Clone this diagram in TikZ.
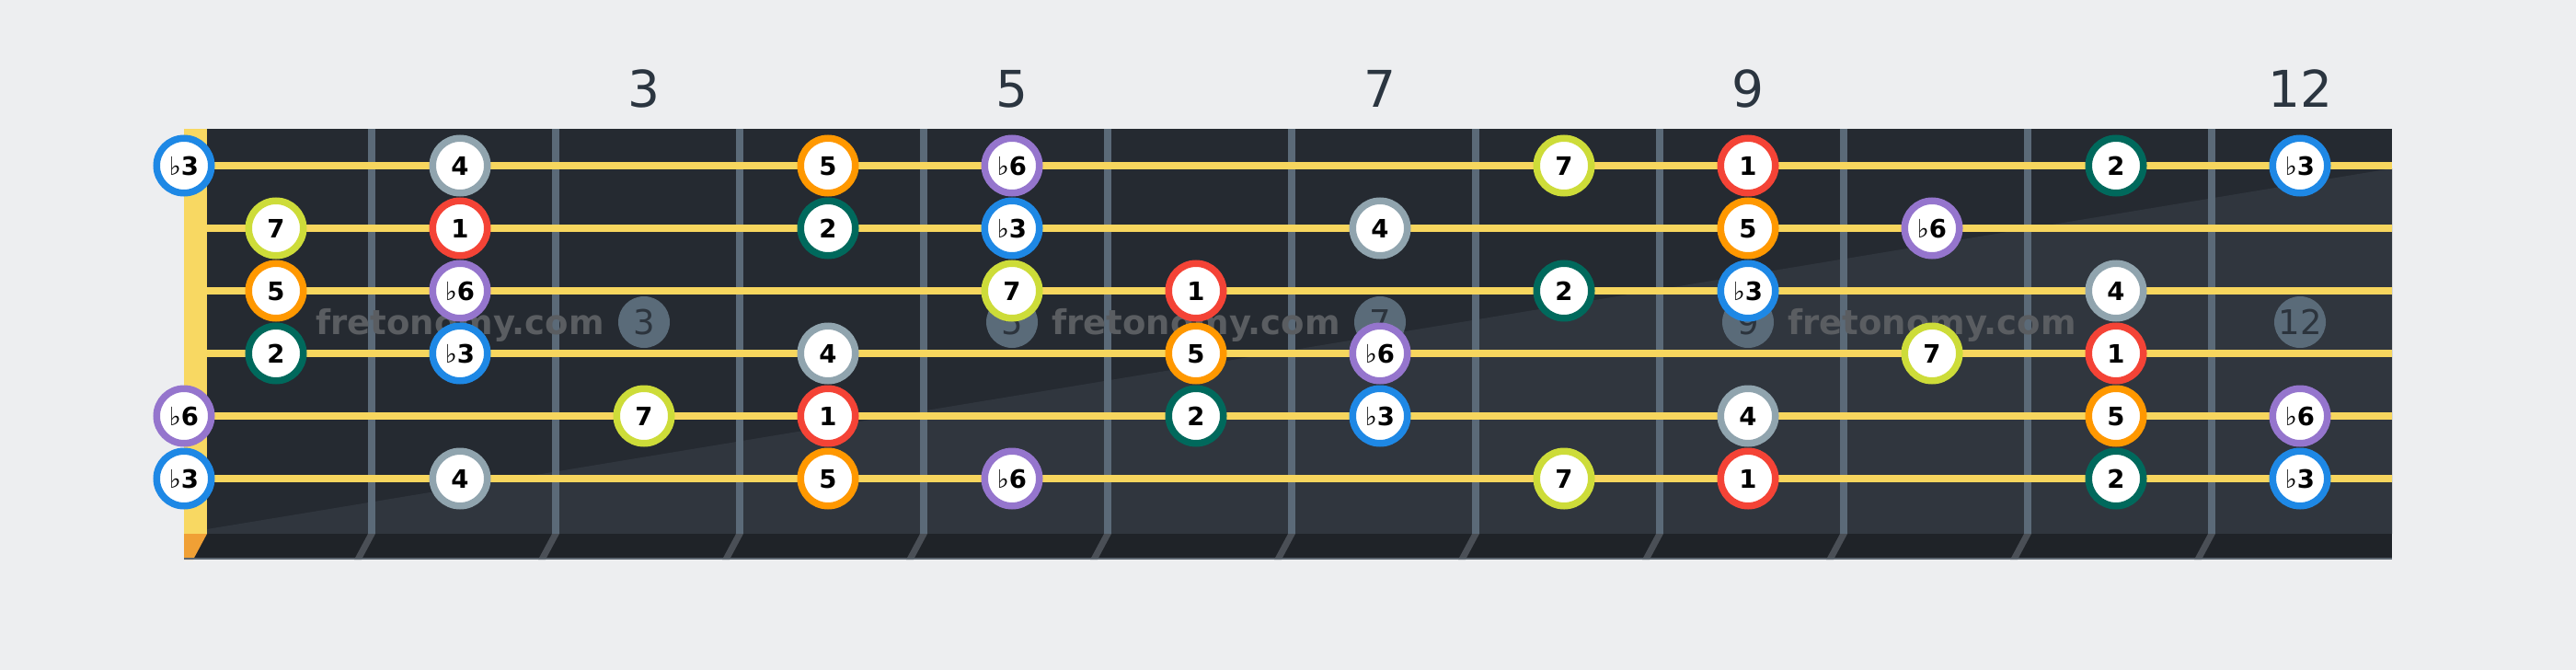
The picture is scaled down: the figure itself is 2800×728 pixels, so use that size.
\documentclass[tikz,border=0pt]{standalone}
\usepackage{fontspec}
\setmainfont{DejaVu Sans}
\definecolor{bg}{HTML}{EDEEF0}
\definecolor{boardA}{HTML}{252A31}
\definecolor{boardB}{HTML}{30363E}
\definecolor{bandc}{HTML}{1F2328}
\definecolor{fretc}{HTML}{5B6A78}
\definecolor{strc}{HTML}{F7D65E}
\definecolor{nutc}{HTML}{F8D862}
\definecolor{nutb}{HTML}{F0A035}
\definecolor{bandfret}{HTML}{4A4F56}
\definecolor{edgec}{HTML}{5C6670}
\definecolor{wmc}{HTML}{5A5D61}
\definecolor{dotc}{HTML}{5A6B79}
\definecolor{dottext}{HTML}{2C343D}
\definecolor{lblc}{HTML}{2B3540}
\definecolor{cI}{HTML}{F44336}
\definecolor{cII}{HTML}{00695C}
\definecolor{cIII}{HTML}{1E88E5}
\definecolor{cIV}{HTML}{90A4AE}
\definecolor{cV}{HTML}{FF9800}
\definecolor{cVI}{HTML}{9575CD}
\definecolor{cVII}{HTML}{CDDC39}
\newcommand{\fl}{{\mdseries ♭}}
\tikzset{
  notec/.style={circle, draw=#1, line width=7.5pt, fill=white, minimum size=59.5pt,
    inner sep=0pt, text height=20pt, text depth=0pt, text=black,
    font=\fontsize{27.5}{30}\selectfont\bfseries},
  fretline/.style={draw=fretc, line width=8pt},
  stringline/.style={draw=strc, line width=8pt},
  fretlabel/.style={anchor=base, text=lblc, inner sep=0pt, font=\fontsize{55}{60}\selectfont},
  markdot/.style={circle, fill=dotc, minimum size=56pt, inner sep=0pt, text=dottext,
    text height=27pt, text depth=0pt, font=\fontsize{37}{40}\selectfont},
  watermark/.style={anchor=base, text=wmc, inner sep=0pt, font=\fontsize{37}{40}\selectfont\bfseries}
}
\begin{document}
\begin{tikzpicture}[x=1pt,y=-1pt]
\useasboundingbox (0,0) rectangle (2800,728);
\fill[bg] (0,0) rectangle (2800,728);
% board
\fill[boardA] (225,140) rectangle (2600,580);
\fill[boardB] (225,575) -- (2600,183) -- (2600,580) -- (225,580) -- cycle;
% bottom band
\fill[bandc] (200,580) rectangle (2600,608);
\foreach \k in {0,...,10} {
  \pgfmathsetmacro{\fx}{404+200*\k}
  \fill[bandfret] (\fx-4,580) -- (\fx+4,580) -- (\fx-11,608) -- (\fx-19,608) -- cycle;
}
\fill[nutb] (200,580) -- (225,580) -- (210,608) -- (200,608) -- cycle;
\draw[edgec, line width=2pt] (200,607) -- (2600,607);
% nut
\fill[nutc] (200,140) rectangle (225,580);
% frets
\foreach \k in {0,...,10} {
  \pgfmathsetmacro{\fx}{404+200*\k}
  \coordinate (ft\k) at (\fx,140);
  \coordinate (fb\k) at (\fx,580);
  \draw[fretline] (ft\k) -- (fb\k);
}
% watermarks
\node[watermark] (wm1) at (500,363) {fretonomy.com};
\node[watermark] (wm2) at (1300,363) {fretonomy.com};
\node[watermark] (wm3) at (2100,363) {fretonomy.com};
% fret marker dots
\foreach \x/\t in {700/3,1100/5,1500/7,1900/9,2500/12} {
  \node[markdot] (dot\t) at (\x,350) {\t};
  \node[fretlabel] (lbl\t) at (\x,116) {\t};
}
% strings
\foreach \s/\y in {1/180,2/248,3/316,4/384,5/452,6/520} {
  \coordinate (sl\s) at (225,\y);
  \coordinate (sr\s) at (2600,\y);
  \draw[stringline] (sl\s) -- (sr\s);
}
% notes
\foreach \x/\c/\t [count=\i] in {200/cIII/\fl3,500/cIV/4,900/cV/5,1100/cVI/\fl6,1700/cVII/7,1900/cI/1,2300/cII/2,2500/cIII/\fl3}
  \node[notec=\c] (a\i) at (\x,180) {\t};
\foreach \x/\c/\t [count=\i] in {300/cVII/7,500/cI/1,900/cII/2,1100/cIII/\fl3,1500/cIV/4,1900/cV/5,2100/cVI/\fl6}
  \node[notec=\c] (b\i) at (\x,248) {\t};
\foreach \x/\c/\t [count=\i] in {300/cV/5,500/cVI/\fl6,1100/cVII/7,1300/cI/1,1700/cII/2,1900/cIII/\fl3,2300/cIV/4}
  \node[notec=\c] (c\i) at (\x,316) {\t};
\foreach \x/\c/\t [count=\i] in {300/cII/2,500/cIII/\fl3,900/cIV/4,1300/cV/5,1500/cVI/\fl6,2100/cVII/7,2300/cI/1}
  \node[notec=\c] (d\i) at (\x,384) {\t};
\foreach \x/\c/\t [count=\i] in {200/cVI/\fl6,700/cVII/7,900/cI/1,1300/cII/2,1500/cIII/\fl3,1900/cIV/4,2300/cV/5,2500/cVI/\fl6}
  \node[notec=\c] (e\i) at (\x,452) {\t};
\foreach \x/\c/\t [count=\i] in {200/cIII/\fl3,500/cIV/4,900/cV/5,1100/cVI/\fl6,1700/cVII/7,1900/cI/1,2300/cII/2,2500/cIII/\fl3}
  \node[notec=\c] (f\i) at (\x,520) {\t};
\end{tikzpicture}
\end{document}
